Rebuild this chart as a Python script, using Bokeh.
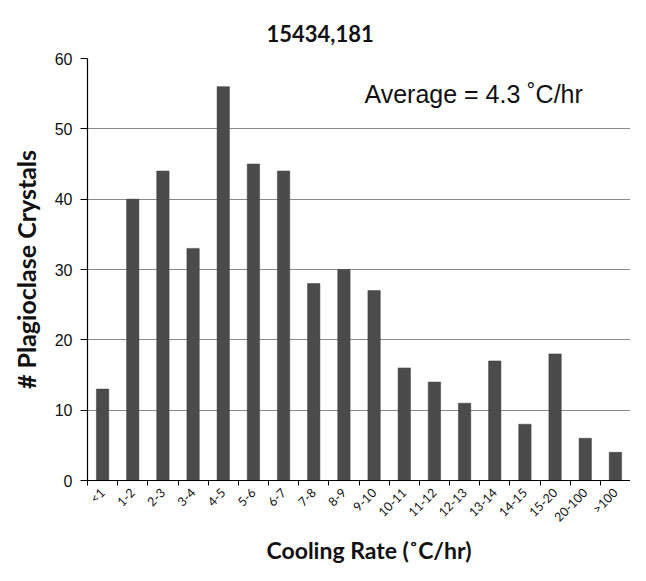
import math
from bokeh.plotting import figure
from bokeh.models import ColumnDataSource, FixedTicker, Range1d, Label, Title
from bokeh.embed import file_html
from bokeh.resources import INLINE

categories = ["<1", "1-2", "2-3", "3-4", "4-5", "5-6", "6-7", "7-8", "8-9", "9-10",
              "10-11", "11-12", "12-13", "13-14", "14-15", "15-20", "20-100", ">100"]
counts = [13, 40, 44, 33, 56, 45, 44, 28, 30, 27, 16, 14, 11, 17, 8, 18, 6, 4]
y_ticks = [0, 10, 20, 30, 40, 50, 60]
title_text = "15434,181"
x_label = "Cooling Rate (\u02daC/hr)"
y_label = "# Plagioclase Crystals"
note_text = "Average = 4.3 \u02daC/hr"
note_pos = (9.18, 54.9)

centers = [i + 0.5 for i in range(len(categories))]
source = ColumnDataSource(dict(x=centers, top=counts, cat=categories))

p = figure(frame_width=543, frame_height=422, output_backend="svg", toolbar_location=None,
           x_range=Range1d(0, len(categories)), y_range=Range1d(0, 60),
           min_border_left=87, min_border_right=0, min_border_top=58, min_border_bottom=85)

p.vbar(x="x", top="top", bottom=0, width=0.41, source=source,
       fill_color="#4b4b4b", line_color="#3c3c3c", line_width=0.5)

p.title = Title(text=title_text, align="left", offset=179, standoff=30,
                vertical_align="top",
                text_font="Lato", text_font_style="bold", text_font_size="22px",
                text_color="#111111")

p.outline_line_color = None
p.xgrid.grid_line_color = None
p.ygrid.grid_line_color = "#8a8a8a"
p.ygrid.grid_line_width = 1.2
p.ygrid.ticker = FixedTicker(ticks=y_ticks)

ya = p.yaxis[0]
ya.ticker = FixedTicker(ticks=y_ticks)
ya.axis_line_color = "black"
ya.axis_line_width = 1.2
ya.major_tick_out = 7
ya.major_tick_in = 0
ya.minor_tick_line_color = None
ya.major_label_text_font = "Liberation Sans"
ya.major_label_text_font_size = "16px"
ya.major_label_text_color = "#111111"
ya.major_label_standoff = 8
ya.axis_label = y_label
ya.axis_label_text_font = "Lato"
ya.axis_label_text_font_style = "bold"
ya.axis_label_text_font_size = "25px"
ya.axis_label_text_color = "#111111"
ya.axis_label_standoff = 11

xa = p.xaxis[0]
xa.ticker = FixedTicker(ticks=centers, minor_ticks=list(range(len(categories) + 1)))
xa.major_label_overrides = {c: lab for c, lab in zip(centers, categories)}
xa.major_tick_line_color = None
xa.minor_tick_out = 5
xa.minor_tick_in = 0
xa.minor_tick_line_color = "black"
xa.axis_line_color = "black"
xa.axis_line_width = 1.2
xa.major_label_orientation = math.pi / 4
xa.major_label_text_font = "Lato"
xa.major_label_text_font_size = "12.5px"
xa.major_label_text_color = "#111111"
xa.major_label_standoff = 4

p.add_layout(Title(text=x_label, align="left", offset=179, standoff=0,
                   text_font="Lato", text_font_style="bold", text_font_size="23px",
                   text_color="#111111"), "below")

p.add_layout(Label(x=note_pos[0], y=note_pos[1], text=note_text,
                   text_font="Liberation Sans", text_font_size="25px",
                   text_baseline="middle", text_align="left", text_color="#111111"))

open("out.html", "w").write(file_html(p, INLINE))
